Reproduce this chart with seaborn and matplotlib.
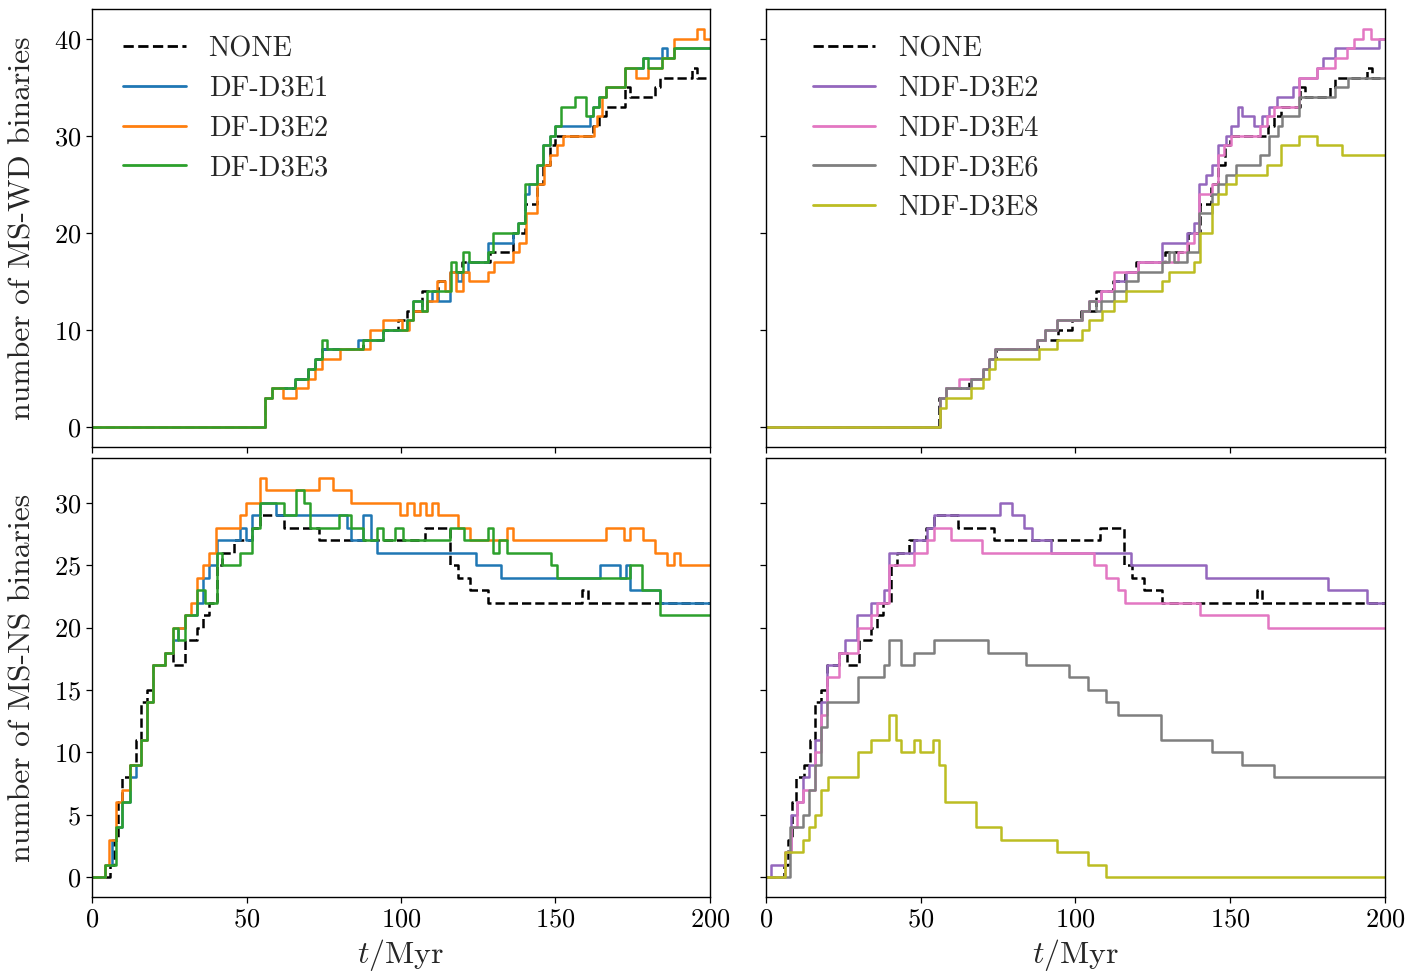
import matplotlib
matplotlib.use("Agg")
import matplotlib.pyplot as plt
import pandas as pd
import seaborn as sns

# ---------------------------------------------------------------
# Number of MS-WD binaries: times (Myr) at which the count changes
# and the count from that time on (last entry holds to t = 200).
# ---------------------------------------------------------------
wd_none_t = [0, 56.0, 58.1, 65.7, 70.0, 72.2, 74.3, 87.8, 94.3, 99.0, 101.8, 106.7, 112.1, 115.9,
             119.6, 128.8, 136.3, 140.1, 143.9, 146.0, 148.2, 149.8, 162.2, 164.1, 166.5, 172.5,
             174.1, 182.2, 183.8, 194.1, 195.7, 200]
wd_none_n = [0, 3, 4, 5, 6, 7, 8, 9, 10, 11, 12, 14, 15, 16,
             17, 18, 20, 23, 25, 27, 29, 30, 31, 32, 33, 35,
             34, 35, 36, 37, 36, 36]

wd_df1_t = [0, 56.0, 58.1, 65.7, 70.0, 72.2, 74.3, 86.2, 94.3, 101.8, 104.0, 106.7, 108.3, 109.9,
            112.0, 115.9, 118.0, 119.6, 121.8, 124.0, 128.3, 136.3, 137.9, 140.1, 141.5, 143.9,
            146.0, 148.2, 149.8, 161.1, 162.2, 164.1, 166.5, 172.5, 178.4, 184.4, 186.0, 188.2,
            200]
wd_df1_n = [0, 3, 4, 5, 6, 7, 8, 9, 10, 11, 13, 12, 13, 14,
            13, 16, 15, 16, 17, 17, 19, 20, 21, 24, 25, 27,
            29, 30, 31, 32, 33, 34, 35, 37, 38, 39, 38, 39,
            39]

wd_df2_t = [0, 56.0, 58.1, 61.9, 66.0, 70.0, 72.2, 74.3, 80.3, 90.0, 94.1, 100.2, 102.5, 104.0,
            108.3, 111.7, 114.2, 116.0, 117.8, 120.2, 122.1, 128.3, 130.1, 136.3, 138.3, 140.4,
            143.9, 146.2, 148.2, 150.4, 152.3, 162.3, 163.5, 165.0, 166.5, 172.5, 176.2, 180.0,
            184.4, 188.2, 195.7, 197.9, 200]
wd_df2_n = [0, 3, 4, 3, 4, 5, 6, 7, 8, 10, 11, 10, 11, 12,
            13, 15, 14, 16, 14, 16, 15, 16, 17, 18, 19, 22,
            25, 27, 28, 29, 30, 31, 32, 34, 35, 37, 36, 37,
            38, 40, 41, 40, 40]

wd_df3_t = [0, 56.0, 58.1, 65.7, 70.0, 72.2, 74.3, 75.9, 87.8, 94.3, 101.8, 104.0, 106.7, 108.3,
            116.1, 117.8, 120.0, 122.1, 128.3, 129.9, 138.0, 140.1, 143.9, 146.0, 148.2, 149.8,
            151.9, 156.3, 160.0, 162.2, 164.1, 166.5, 172.5, 178.4, 180.0, 184.4, 188.2, 200]
wd_df3_n = [0, 3, 4, 5, 6, 7, 9, 8, 9, 10, 11, 13, 12, 14,
            17, 16, 18, 17, 18, 20, 21, 25, 27, 29, 30, 31,
            33, 34, 32, 33, 34, 35, 37, 38, 37, 38, 39, 39]

wd_ndf2_t = [0, 56.1, 58.1, 66.2, 70.1, 72.1, 74.0, 87.7, 90.3, 94.2, 102.0, 104.3, 108.2, 112.4,
             116.3, 120.2, 128.0, 136.0, 138.3, 139.9, 142.2, 144.2, 146.1, 148.5, 150.3, 152.4,
             153.9, 157.8, 160.2, 162.4, 165.0, 170.2, 172.1, 178.0, 179.9, 183.8, 198.1, 200]
wd_ndf2_n = [0, 3, 4, 5, 6, 7, 8, 9, 10, 11, 12, 13, 14, 15,
             16, 17, 19, 20, 21, 25, 26, 27, 29, 30, 31, 33,
             32, 31, 32, 33, 34, 35, 36, 37, 38, 39, 40, 40]

wd_ndf4_t = [0, 56.1, 58.1, 62.4, 70.1, 72.1, 74.0, 87.7, 90.3, 94.2, 102.0, 104.3, 108.2, 112.4,
             120.2, 133.1, 136.0, 138.3, 139.9, 144.2, 146.1, 148.1, 150.3, 159.8, 162.0, 164.3,
             172.1, 178.0, 183.8, 187.7, 190.0, 192.9, 195.5, 200]
wd_ndf4_n = [0, 3, 4, 5, 6, 7, 8, 9, 10, 11, 12, 13, 14, 16,
             17, 18, 19, 20, 24, 25, 28, 29, 30, 31, 32, 33,
             36, 37, 38, 39, 40, 41, 40, 40]

wd_ndf6_t = [0, 56.1, 58.1, 66.2, 70.1, 72.1, 74.0, 87.7, 90.3, 94.2, 102.0, 104.3, 106.5, 108.2,
             112.4, 116.3, 120.2, 128.0, 130.3, 131.8, 136.0, 139.9, 144.2, 146.1, 148.7, 152.0,
             159.8, 162.4, 165.6, 166.9, 172.1, 183.8, 188.0, 200]
wd_ndf6_n = [0, 3, 4, 5, 6, 7, 8, 9, 10, 11, 12, 13, 12, 13,
             14, 15, 16, 17, 18, 17, 18, 22, 24, 25, 26, 27,
             28, 30, 31, 32, 34, 35, 36, 36]

wd_ndf8_t = [0, 56.1, 58.1, 66.2, 70.1, 72.1, 74.0, 88.3, 94.2, 102.0, 104.3, 108.5, 112.4, 116.3,
             128.0, 130.3, 138.3, 140.3, 144.2, 146.1, 148.7, 152.0, 162.0, 166.3, 172.1, 178.0,
             186.1, 200]
wd_ndf8_n = [0, 2, 3, 4, 5, 6, 7, 8, 9, 10, 11, 12, 13, 14,
             15, 16, 17, 20, 23, 24, 25, 26, 27, 29, 30, 29,
             28, 28]

# ---------------------------------------------------------------
# Number of MS-NS binaries
# ---------------------------------------------------------------
ns_none_t = [0, 5.8, 7.0, 8.3, 9.6, 12.2, 14.1, 16.0, 17.9, 19.8, 23.7, 26.2, 30.1, 33.9, 35.8,
             37.8, 40.3, 42.2, 46.1, 51.8, 54.4, 62.1, 73.6, 107.9, 115.8, 118.4, 122.2, 128.0,
             158.7, 160.4, 200]
ns_none_n = [0, 1, 3, 6, 8, 9, 11, 14, 15, 17, 18, 17, 19, 20, 21,
             22, 25, 26, 27, 28, 29, 28, 27, 28, 25, 24, 23, 22,
             23, 22, 22]

ns_df1_t = [0, 4.2, 6.4, 7.7, 9.6, 12.2, 14.1, 15.7, 17.9, 19.8, 23.7, 26.2, 27.8, 30.1, 33.9,
            35.8, 38.0, 40.3, 48.0, 49.9, 51.8, 54.4, 59.5, 82.6, 83.8, 87.7, 90.2, 92.2, 124.2,
            132.5, 164.5, 170.9, 172.8, 174.1, 183.7, 200]
ns_df1_n = [0, 1, 3, 4, 6, 8, 9, 11, 14, 17, 18, 19, 20, 21, 22,
            24, 25, 27, 28, 27, 29, 30, 29, 28, 27, 29, 27, 26, 25,
            24, 25, 24, 25, 23, 22, 22]

ns_df2_t = [0, 4.2, 5.5, 7.7, 9.6, 12.2, 15.7, 17.9, 19.8, 23.7, 26.2, 30.1, 32.0, 33.9, 35.8,
            37.8, 40.1, 48.0, 49.9, 54.4, 56.3, 73.6, 78.1, 83.8, 99.8, 101.8, 104.3, 106.2,
            108.2, 110.1, 112.0, 118.4, 122.2, 134.4, 136.3, 166.4, 172.2, 174.1, 178.3, 182.1,
            186.2, 188.5, 190.3, 200]
ns_df2_n = [0, 1, 3, 6, 7, 9, 11, 14, 17, 18, 20, 21, 22, 24, 25,
            26, 28, 29, 30, 32, 31, 32, 31, 30, 29, 30, 29, 30,
            29, 30, 29, 28, 27, 28, 27, 28, 27, 28, 27, 26,
            25, 26, 25, 25]

ns_df3_t = [0, 4.2, 7.7, 9.6, 12.2, 15.7, 17.9, 19.8, 23.7, 26.2, 27.8, 30.1, 33.9, 36.5, 40.3,
            42.2, 48.0, 51.8, 54.4, 62.1, 65.9, 68.5, 70.4, 80.0, 83.8, 87.7, 92.2, 94.1, 97.9,
            100.5, 115.8, 120.3, 128.0, 129.9, 131.8, 134.4, 148.5, 150.4, 174.1, 177.9, 183.7,
            200]
ns_df3_n = [0, 1, 4, 6, 9, 11, 14, 17, 18, 20, 19, 21, 23, 22, 26,
            25, 26, 28, 30, 29, 31, 30, 28, 29, 28, 27, 28, 27, 28,
            27, 28, 27, 28, 26, 27, 26, 25, 24, 25, 23, 21,
            21]

ns_ndf2_t = [0, 1.6, 6.1, 8.1, 10.0, 12.0, 13.9, 15.9, 17.8, 19.8, 23.7, 25.6, 29.5, 34.1, 38.0,
             39.9, 47.7, 52.0, 54.3, 75.7, 79.6, 83.5, 86.1, 92.0, 118.0, 142.1, 181.7, 194.1,
             200]
ns_ndf2_n = [0, 1, 2, 5, 6, 8, 9, 11, 14, 17, 18, 19, 21, 22, 23,
             26, 27, 28, 29, 30, 29, 28, 27, 26, 25, 24, 23, 22,
             22]

ns_ndf4_t = [0, 6.1, 8.1, 10.0, 12.0, 15.9, 17.8, 19.8, 23.7, 29.9, 34.1, 36.0, 39.9, 47.7, 52.0,
             54.3, 59.8, 69.9, 106.0, 109.9, 113.8, 116.0, 140.1, 162.2, 200]
ns_ndf4_n = [0, 2, 4, 6, 7, 10, 13, 16, 18, 20, 21, 22, 25, 26, 27,
             28, 27, 26, 25, 24, 23, 22, 21, 20, 20]

ns_ndf6_t = [0, 7.8, 12.0, 13.9, 15.9, 17.8, 19.8, 29.9, 38.0, 39.9, 43.8, 47.7, 54.3, 71.8, 83.9,
             97.8, 104.1, 109.9, 113.8, 127.8, 144.0, 153.8, 164.2, 200]
ns_ndf6_n = [0, 4, 5, 7, 9, 12, 14, 16, 17, 19, 17, 18, 19, 18, 17,
             16, 15, 14, 13, 11, 10, 9, 8, 8]

ns_ndf8_t = [0, 6.1, 12.0, 13.9, 15.9, 17.8, 20.0, 29.9, 33.8, 39.9, 41.9, 43.8, 47.7, 49.7, 54.0,
             55.8, 57.9, 67.9, 76.0, 93.9, 104.1, 109.9, 200]
ns_ndf8_n = [0, 2, 3, 4, 5, 7, 8, 10, 11, 13, 11, 10, 11, 10, 11,
             9, 6, 4, 3, 2, 1, 0, 0]

# model labels and colours
label_none = "NONE"
labels_df = ["DF-D3E1", "DF-D3E2", "DF-D3E3"]
labels_ndf = ["NDF-D3E2", "NDF-D3E4", "NDF-D3E6", "NDF-D3E8"]
colors_df = ["#1f77b4", "#ff7f0e", "#2ca02c"]
colors_ndf = ["#9467bd", "#e377c2", "#7f7f7f", "#bcbd22"]

ylabel_top = "number of MS-WD binaries"
ylabel_bottom = "number of MS-NS binaries"
xlabel = r"$t/\mathrm{Myr}$"
xticks = [0, 50, 100, 150, 200]

# ---------------------------------------------------------------
sns.set_style("ticks")
plt.rcParams.update({
    "font.family": ["cmr10", "DejaVu Serif"],
    "mathtext.fontset": "cm",
    "axes.formatter.use_mathtext": True,
    "axes.unicode_minus": False,
    "axes.edgecolor": "black",
    "axes.linewidth": 1.0,
    "xtick.color": "black",
    "ytick.color": "black",
    "xtick.direction": "out",
    "ytick.direction": "out",
    "xtick.major.size": 4.5,
    "ytick.major.size": 4.5,
    "xtick.major.width": 0.9,
    "ytick.major.width": 0.9,
    "xtick.labelsize": 19,
    "ytick.labelsize": 19,
})

fig = plt.figure(figsize=(14.09, 9.72), dpi=100)
L1, W = 0.0653, 0.4386
L2 = 0.5436
B_top, H_top = 0.5401, 0.4506
B_bot, H_bot = 0.0772, 0.4516

ax_tl = fig.add_axes([L1, B_top, W, H_top])
ax_tr = fig.add_axes([L2, B_top, W + 0.0007, H_top], sharex=ax_tl, sharey=ax_tl)
ax_bl = fig.add_axes([L1, B_bot, W, H_bot], sharex=ax_tl)
ax_br = fig.add_axes([L2, B_bot, W + 0.0007, H_bot], sharex=ax_tl, sharey=ax_bl)

LW = 1.8


def steps(ax, t, n, color, label, dashed=False):
    df = pd.DataFrame({"t": t, "n": n})
    sns.lineplot(data=df, x="t", y="n", ax=ax, color=color, label=label,
                 drawstyle="steps-post", linewidth=LW, estimator=None, sort=False,
                 linestyle="--" if dashed else "-")


# MS-WD, models with dynamical friction
steps(ax_tl, wd_none_t, wd_none_n, "black", label_none, dashed=True)
for t, n, c, lab in zip([wd_df1_t, wd_df2_t, wd_df3_t], [wd_df1_n, wd_df2_n, wd_df3_n],
                        colors_df, labels_df):
    steps(ax_tl, t, n, c, lab)

# MS-WD, models without dynamical friction
steps(ax_tr, wd_none_t, wd_none_n, "black", label_none, dashed=True)
for t, n, c, lab in zip([wd_ndf2_t, wd_ndf4_t, wd_ndf6_t, wd_ndf8_t],
                        [wd_ndf2_n, wd_ndf4_n, wd_ndf6_n, wd_ndf8_n], colors_ndf, labels_ndf):
    steps(ax_tr, t, n, c, lab)

# MS-NS
steps(ax_bl, ns_none_t, ns_none_n, "black", label_none, dashed=True)
for t, n, c, lab in zip([ns_df1_t, ns_df2_t, ns_df3_t], [ns_df1_n, ns_df2_n, ns_df3_n],
                        colors_df, labels_df):
    steps(ax_bl, t, n, c, lab)

steps(ax_br, ns_none_t, ns_none_n, "black", label_none, dashed=True)
for t, n, c, lab in zip([ns_ndf2_t, ns_ndf4_t, ns_ndf6_t, ns_ndf8_t],
                        [ns_ndf2_n, ns_ndf4_n, ns_ndf6_n, ns_ndf8_n], colors_ndf, labels_ndf):
    steps(ax_br, t, n, c, lab)

for ax in (ax_tl, ax_tr, ax_bl, ax_br):
    ax.set_xlim(0, 200)
    ax.set_xticks(xticks)
    ax.set_xlabel("")
    ax.set_ylabel("")
    for s in ax.spines.values():
        s.set_visible(True)
        s.set_color("black")
    ax.tick_params(top=False, right=False)

ax_tl.tick_params(labelbottom=False)
ax_tr.tick_params(labelbottom=False, labelleft=False)
ax_br.tick_params(labelleft=False)

ax_tl.set_ylabel(ylabel_top, fontsize=22.8, labelpad=12)
ax_bl.set_ylabel(ylabel_bottom, fontsize=22.8, labelpad=12)
ax_bl.set_xlabel(xlabel, fontsize=23)
ax_br.set_xlabel(xlabel, fontsize=23)

for ax, x0 in ((ax_tl, 0.032), (ax_tr, 0.057)):
    leg = ax.legend(loc="upper left", bbox_to_anchor=(x0, 0.965), borderaxespad=0,
                    frameon=False, fontsize=20.5, handlelength=2.2, labelspacing=0.47)
    for h in leg.get_lines():
        h.set_linewidth(2.0)
for ax in (ax_bl, ax_br):
    leg = ax.get_legend()
    if leg is not None:
        leg.remove()

fig.savefig("out.png", dpi=100)
